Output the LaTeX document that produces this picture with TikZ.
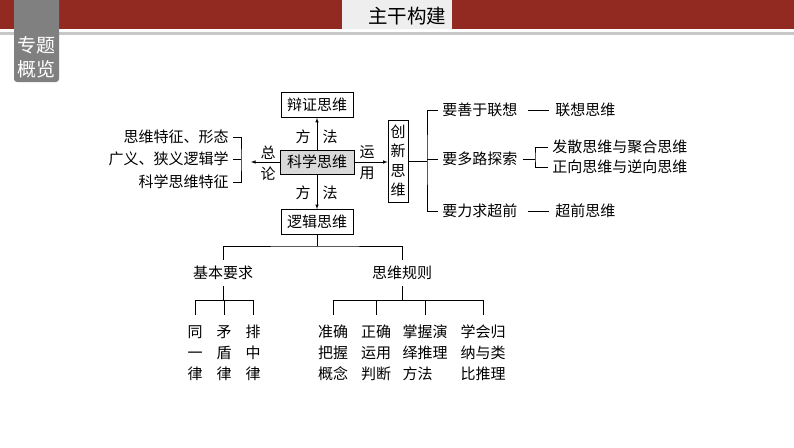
\documentclass[tikz,border=0pt]{standalone}
\usepackage{fontspec}
\setmainfont{Noto Sans CJK SC}
\usepackage{tikz}
\usetikzlibrary{arrows,positioning}
\usepackage{xcolor}
\definecolor{hdred}{RGB}{146,42,34}
\definecolor{hdgray}{RGB}{238,238,238}
\definecolor{tabgray}{RGB}{128,128,128}
\definecolor{rulegray}{RGB}{200,200,200}
\definecolor{boxgray}{RGB}{217,217,217}

\begin{document}
\begin{tikzpicture} [
      x = 1pt, y = -1pt,
      line width = 0.6pt,
      every node/.style = { inner sep = 1pt, font = \fontsize{15}{21}\selectfont },
      box/.style = { draw, minimum width = 72pt, minimum height = 25pt },
      arr/.style = { -latex },
      col/.style = { align = center, inner ysep = 10pt }
      ]

      \useasboundingbox (0,0) rectangle (794,447);
      \fill [hdred] (0,0) rectangle (342,29);
      \fill [hdgray] (342,0) rectangle (452,29);
      \fill [hdred] (452,0) rectangle (794,29);
      \fill [rulegray] (0,32) rectangle (794,35);
      \fill [tabgray, rounded corners = 3pt] (14,-6) rectangle (59,82);
      \node [white, align = center, font = \fontsize{19}{24}\selectfont] (tab) at (36.5,57) {专题\\概览};
      \node [font = \fontsize{19.5}{24}\selectfont] (title) at (407,16) {主干构建};

      \node [box] (bz) at (317,105) {辩证思维};
      \node [box, fill = boxgray, minimum width = 74pt, minimum height = 24pt] (kx) at (317,162) {科学思维};
      \node [box] (lj) at (317,222) {逻辑思维};
      \node [box, align = center, minimum width = 20pt, minimum height = 82pt, font = \fontsize{15}{19.5}\selectfont] (cx) at (398,161) {创\\新\\思\\维};

      \coordinate (zl) at (251,162);
      \draw [arr] (kx) -- (bz);
      \draw [arr] (kx) -- (lj);
      \draw [arr] (kx) -- (zl);
      \draw [arr] (kx.east) -- (kx.east -| cx.west);

      \node (f1) at (303,137) {方}; \node (f2) at (330,137) {法};
      \node (f3) at (303,193) {方}; \node (f4) at (330,193) {法};
      \node (z1) at (268,153) {总}; \node (z2) at (268,174) {论};
      \node (y1) at (367,152) {运}; \node (y2) at (367,173) {用};

      \node [anchor = east] (t1) at (230,137) {思维特征、形态};
      \node [anchor = east] (t2) at (230,159) {广义、狭义逻辑学};
      \node [anchor = east] (t3) at (230,182) {科学思维特征};
      \coordinate (lb) at (241,160);
      \draw ([xshift=3pt]t1.east) -| (lb) |- ([xshift=3pt]t3.east);
      \draw ([xshift=3pt]t2.east) -- (t2.east -| lb);

      \node [anchor = west] (r1) at (441,110) {要善于联想};
      \node [anchor = west] (r2) at (441,159) {要多路探索};
      \node [anchor = west] (r3) at (441,211) {要力求超前};
      \coordinate (rb) at (427,159);
      \draw (cx.east) -- (cx.east -| rb);
      \draw ([xshift=-3pt]r1.west) -| (rb) |- ([xshift=-3pt]r3.west);
      \draw ([xshift=-3pt]r2.west) -- (r2.west -| rb);

      \node [anchor = west] (l1) at (554,110) {联想思维};
      \node [anchor = west] (l3) at (554,211) {超前思维};
      \draw ([xshift=9pt]r1.east) -- ([xshift=-5pt]l1.west);
      \draw ([xshift=9pt]r3.east) -- ([xshift=-5pt]l3.west);
      \node [anchor = west] (l2a) at (551,147) {发散思维与聚合思维};
      \node [anchor = west] (l2b) at (551,167) {正向思维与逆向思维};
      \coordinate (mb) at (535,157);
      \draw ([xshift=4pt]r2.east) -- (r2.east -| mb);
      \draw ([xshift=-3pt]l2a.west) -| (mb) |- ([xshift=-3pt]l2b.west);

      \node [inner ysep = 6pt] (jb) at (223,273) {基本要求};
      \node [inner ysep = 6pt] (gz) at (402,273) {思维规则};
      \coordinate (j0) at (317,246);
      \draw (lj) -- (j0);
      \draw (jb) |- (j0) -| (gz);

      \draw (jb.south) -- ++(0,14) coordinate (j1);
      \node [col] (c1) at (195,353) {同\\一\\律};
      \node [col] (c2) at (224,353) {矛\\盾\\律};
      \node [col] (c3) at (253,353) {排\\中\\律};
      \draw (c1.north) |- (j1) -| (c3.north);
      \draw (c2.north) -- (c2.north |- j1);

      \draw (gz.south) -- ++(0,14) coordinate (g0);
      \node [col] (g1) at (333,353) {准确\\把握\\概念};
      \node [col] (g2) at (376,353) {正确\\运用\\判断};
      \node [col, align = left] (g3) at (425,353) {掌握演\\绎推理\\方法};
      \node [col] (g4) at (483,353) {学会归\\纳与类\\比推理};
      \draw (g1.north) |- (g0) -| (g4.north);
      \draw (g2.north) -- (g2.north |- g0);
      \draw (g3.north) -- (g3.north |- g0);
\end{tikzpicture}
\end{document}
